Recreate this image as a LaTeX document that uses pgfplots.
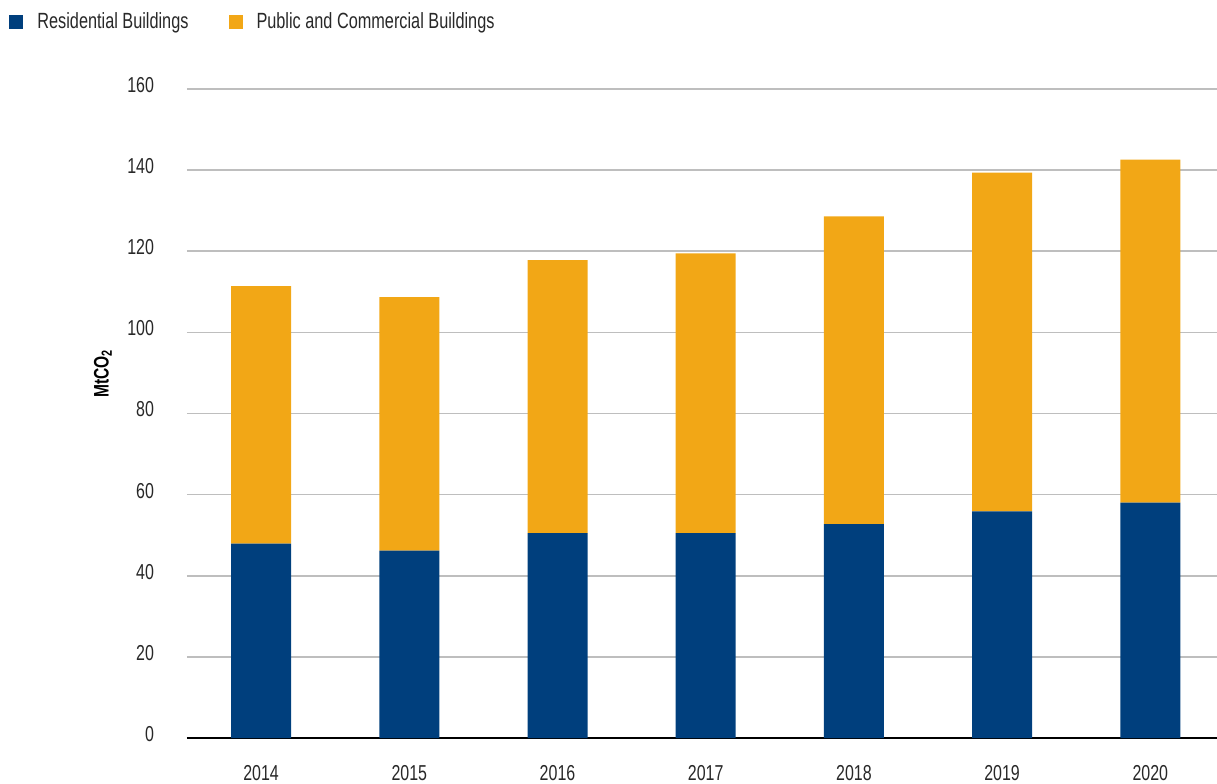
\documentclass[border=0pt]{standalone}
\usepackage{pgfplots}
\pgfplotsset{compat=1.18}
\usepackage{fontspec}
\setmainfont[FakeStretch=0.74]{Liberation Sans}
\definecolor{resblue}{RGB}{0,63,125}
\definecolor{comorange}{RGB}{242,167,22}
\definecolor{gridgray}{RGB}{190,190,190}
\definecolor{txt}{RGB}{40,40,40}
\begin{document}
\begin{tikzpicture}
\path[use as bounding box] (-93.5pt,-22.5pt) rectangle (515pt,369pt);
\begin{axis}[
  at={(0,0)}, anchor=south west,
  scale only axis, width=515pt, height=324.5pt,
  clip=false,
  ybar stacked, bar width=30pt,
  xmin=-0.5, xmax=6.45, ymin=0, ymax=160,
  ytick={0,20,...,160},
  xtick=data,
  xticklabels={2014,2015,2016,2017,2018,2019,2020},
  axis line style={draw=none},
  major tick length=0pt,
  ymajorgrids, grid style={gridgray, line width=0.75pt},
  /pgf/number format/assume math mode=true,
  ticklabel style={font=\fontsize{10.8}{12}\selectfont, text=txt},
  yticklabel style={anchor=east, xshift=-13pt, yshift=2pt},
  xticklabel style={anchor=center, yshift=-17.5pt},
  legend columns=2,
  legend style={at={(rel axis cs:0,1)}, anchor=west, xshift=-89pt, yshift=33.5pt,
    draw=none, fill=none, inner sep=0pt,
    font=\fontsize{11}{12}\selectfont, text=txt,
    /tikz/every odd column/.append style={column sep=5pt},
    /tikz/every even column/.append style={column sep=18pt}},
  legend image code/.code={\fill[#1] (0pt,-3.5pt) rectangle (7pt,3.5pt);},
  legend cell align=left,
]
\addplot[fill=resblue, draw=none] coordinates {(0,47.9) (1,46.2) (2,50.5) (3,50.5) (4,52.7) (5,55.9) (6,58.0)};
\addplot[fill=comorange, draw=none] coordinates {(0,63.5) (1,62.5) (2,67.3) (3,69.0) (4,75.9) (5,83.5) (6,84.6)};
\legend{Residential Buildings, Public and Commercial Buildings}
\draw[black, line width=0.75pt] (rel axis cs:0,0) -- (rel axis cs:1,0);
\node[xshift=-42pt, rotate=90, font=\fontsize{10.5}{12}\selectfont\bfseries, text=black] at (rel axis cs:0,0.562) {MtCO\textsubscript{2}};
\end{axis}
\end{tikzpicture}
\end{document}
